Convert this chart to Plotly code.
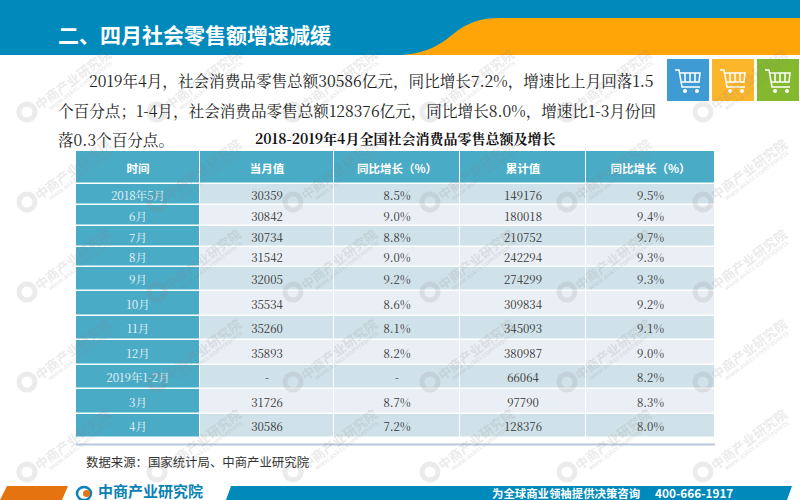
import plotly.graph_objects as go

# Datos de la tabla
headers = ["时间", "当月值", "同比增长（%）", "累计值", "同比增长（%）"]
months = ["2018年5月", "6月", "7月", "8月", "9月", "10月", "11月", "12月", "2019年1-2月", "3月", "4月"]
monthly = ["30359", "30842", "30734", "31542", "32005", "35534", "35260", "35893", "-", "31726", "30586"]
monthly_growth = ["8.5%", "9.0%", "8.8%", "9.0%", "9.2%", "8.6%", "8.1%", "8.2%", "-", "8.7%", "7.2%"]
cumulative = ["149176", "180018", "210752", "242294", "274299", "309834", "345093", "380987", "66064", "97790", "128376"]
cumulative_growth = ["9.5%", "9.4%", "9.7%", "9.3%", "9.3%", "9.2%", "9.1%", "9.0%", "8.2%", "8.3%", "8.0%"]

title = "二、四月社会零售额增速减缓"
body_lines = [
    "2019年4月，社会消费品零售总额30586亿元，同比增长7.2%，增速比上月回落1.5",
    "个百分点；1-4月，社会消费品零售总额128376亿元，同比增长8.0%，增速比1-3月份回",
    "落0.3个百分点。",
]
table_title = "2018-2019年4月全国社会消费品零售总额及增长"
source = "数据来源：国家统计局、中商产业研究院"

# Geometria en pixeles de la pagina
col_edges = [76, 200, 334, 460, 586, 715]
row_edges = [151, 184, 205, 226, 247, 267, 291, 316, 340, 365, 389, 414, 438]

SERIF = "Noto Serif CJK SC, Liberation Serif, Noto Sans CJK SC"
SANS = "Noto Sans CJK SC"

# Colores de celda: 0 = azul, 1 = oscuro, 2 = claro
z = [[0] * 5]
for i in range(len(months)):
    z.append([0] + [1 + i % 2] * 4)

fig = go.Figure()
fig.add_trace(go.Heatmap(
    x=col_edges, y=row_edges, z=z, zmin=0, zmax=2, showscale=False, hoverinfo="skip",
    xgap=1, ygap=1.5,
    colorscale=[[0, "#4AABC6"], [0.33, "#4AABC6"], [0.33, "#D0E2E9"], [0.66, "#D0E2E9"], [0.66, "#E9EFF5"], [1, "#E9EFF5"]],
))

# Texto de las celdas (el texto de scatter queda un poco alto, se baja 2.5 px)
col_mid = [(a + b) / 2 for a, b in zip(col_edges, col_edges[1:])]
row_mid = [(a + b) / 2 + 2.5 for a, b in zip(row_edges, row_edges[1:])]
columns = [monthly, monthly_growth, cumulative, cumulative_growth]
fig.add_trace(go.Scatter(
    x=col_mid, y=[row_mid[0]] * 5, text=headers, mode="text", hoverinfo="skip",
    textfont=dict(family=SANS, size=11.5, color="white", weight="bold"),
))
fig.add_trace(go.Scatter(
    x=[col_mid[0]] * len(months), y=row_mid[1:], text=months, mode="text", hoverinfo="skip",
    textfont=dict(family=SERIF, size=11.5, color="#EEF6F9"),
))
for mid, values in zip(col_mid[1:], columns):
    fig.add_trace(go.Scatter(
        x=[mid] * len(values), y=row_mid[1:], text=values, mode="text", hoverinfo="skip",
        textfont=dict(family=SERIF, size=11.5, color="#333333"),
    ))

shapes = []


def poly(path, color, layer="below"):
    shapes.append(dict(type="path", path=path, fillcolor=color, line_width=0, layer=layer))


# Cabecera y pie
poly("M0,0 L800,0 L800,55 L0,55 Z", "#0089BB")
poly("M400,55 C425,54 440,45 452,35 C468,22 480,18 500,18 L800,18 L800,55 Z", "#FFA508")
poly("M7,486 L68,486 L62,500 L0,500 Z", "#E5730F")
poly("M231,486 L792,486 L787,500 L226,500 Z", "#0089BB")
shapes.append(dict(type="line", x0=76, x1=715, y0=444.5, y1=444.5, line=dict(color="#B7C8DC", width=2), layer="below"))

# Iconos de carrito
for x0, color in [(667, "#3E9BD3"), (712, "#FBB62C"), (757, "#84B92F")]:
    poly(f"M{x0},59 L{x0 + 42},59 L{x0 + 42},101 L{x0},101 Z", color)
    shapes.append(dict(
        type="path",
        path=(f"M{x0 + 8},70 L{x0 + 12},70 L{x0 + 15},87 L{x0 + 33},87 "
              f"M{x0 + 13},73 L{x0 + 33},73 L{x0 + 32},82 L{x0 + 15},82 "
              f"M{x0 + 18},73 L{x0 + 18},82 M{x0 + 23},73 L{x0 + 23},82 M{x0 + 28},73 L{x0 + 28},82"),
        line=dict(color="white", width=1.5), layer="above",
    ))
    for cx in (x0 + 18, x0 + 30):
        shapes.append(dict(type="circle", x0=cx - 2, x1=cx + 2, y0=89, y1=93, fillcolor="white", line_width=0, layer="above"))

# Logo del pie
shapes.append(dict(type="circle", x0=77, x1=91, y0=487, y1=500, line=dict(color="#0B82B5", width=2.5), layer="above"))
shapes.append(dict(type="circle", x0=83, x1=90, y0=490, y1=497, fillcolor="#E5730F", line_width=0, layer="above"))

annotations = []


def label(x, y, text, size, color, family=SANS, anchor="left", weight="normal", angle=0):
    annotations.append(dict(
        x=x, y=y, text=text, showarrow=False, xanchor=anchor, yanchor="middle", textangle=angle,
        font=dict(family=family, size=size, color=color, weight=weight),
    ))


# Marca de agua
for wy in [112, 202, 292, 382, 472]:
    for wx in [27, 157, 293, 430, 567, 703]:
        shapes.append(dict(type="circle", x0=wx - 8, x1=wx + 8, y0=wy - 8, y1=wy + 8,
                           line=dict(color="rgba(130,130,130,0.16)", width=5), layer="above"))
        label(wx + 45, wy - 33, "中商产业研究院", 13, "rgba(130,130,130,0.18)", anchor="center", weight="bold", angle=-37)
        label(wx + 53, wy - 26, "www.askci.com/reports", 7, "rgba(130,130,130,0.18)", family="Liberation Sans", anchor="center", weight="bold", angle=-37)

# Textos de la pagina
label(56, 34, title, 21, "white", weight="bold")
label(87, 80, body_lines[0], 15.6, "#222222", family=SERIF)
label(56, 110, body_lines[1], 15.6, "#222222", family=SERIF)
label(56, 139, body_lines[2], 15.6, "#222222", family=SERIF)
label(405, 138, table_title, 14, "#111111", family=SERIF, anchor="center", weight="bold")
label(84, 462, source, 12.4, "#333333")
label(96, 490, "中商产业研究院", 15, "#0B82B5", weight="bold")
label(490, 492.5, "为全球商业领袖提供决策咨询", 11.4, "white", weight="bold")
label(653, 492, "400-666-1917", 11.8, "white", weight="bold")

fig.update_layout(
    width=800, height=500, margin=dict(l=0, r=0, t=0, b=0),
    paper_bgcolor="white", plot_bgcolor="white", showlegend=False,
    xaxis=dict(range=[0, 800], visible=False, fixedrange=True),
    yaxis=dict(range=[500, 0], visible=False, fixedrange=True),
    shapes=shapes, annotations=annotations,
)

# Quitar el margen por defecto de la pagina y la barra de herramientas
fig.write_html("out.html", config={"displayModeBar": False}, post_script="document.body.style.margin='0';")
